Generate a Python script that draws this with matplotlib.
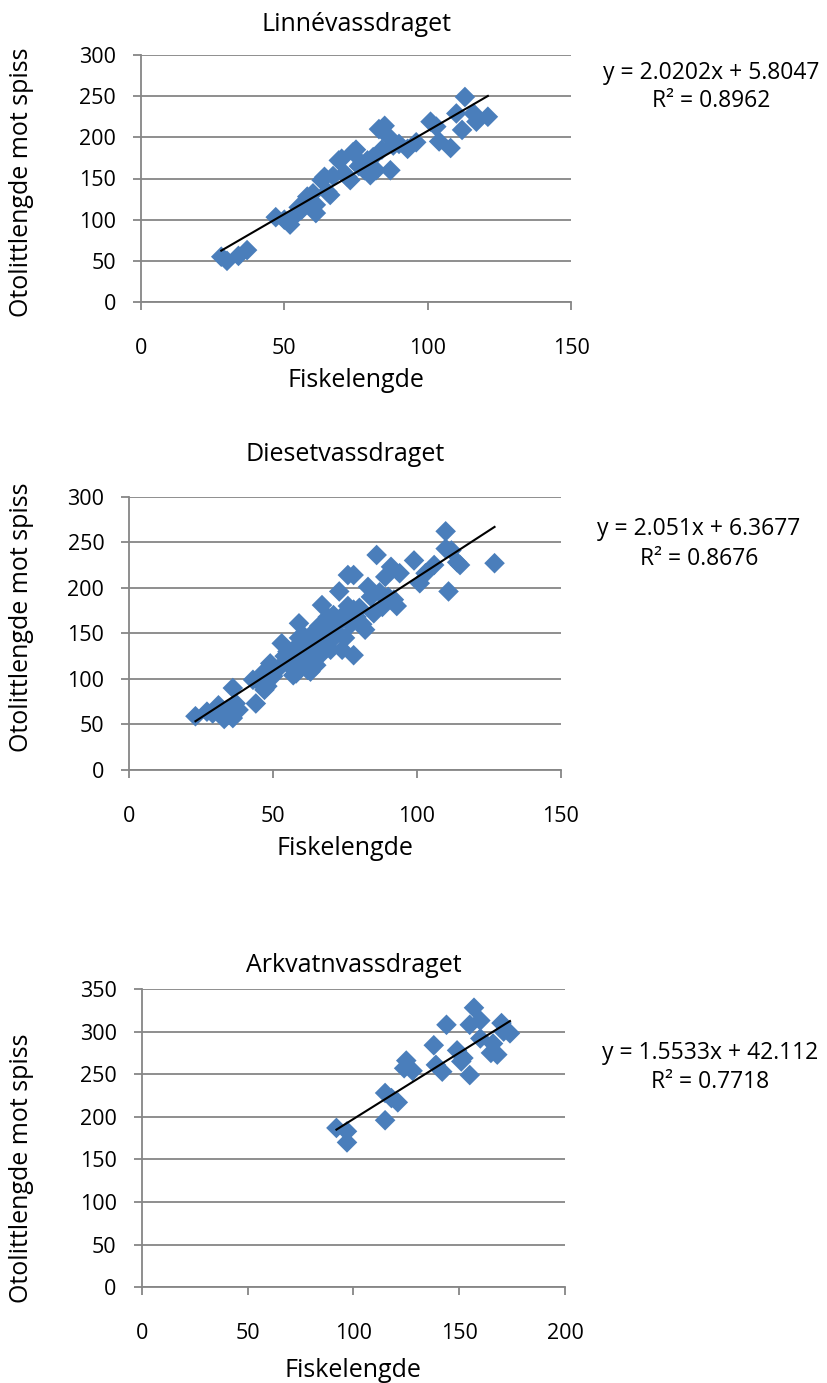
import matplotlib
matplotlib.use("Agg")
import matplotlib.pyplot as plt
import numpy as np

plt.rcParams['font.family'] = ['Open Sans', 'DejaVu Sans']

# ---- data -------------------------------------------------------------
linne_x = [28, 30, 34, 37, 47, 50, 52, 54, 55, 56, 58, 58, 60, 61, 61, 63, 64, 65,
           66, 67, 69, 70, 71, 72, 73, 74, 75, 76, 77, 78, 79, 80, 81, 82, 83, 84,
           85, 86, 87, 88, 90, 93, 96, 101, 103, 104, 108, 110, 113, 112, 116, 117, 121]
linne_y = [55, 50, 56, 63, 103, 100, 94, 106, 115, 112, 128, 120, 132, 108, 118, 148, 152, 134,
           130, 153, 172, 174, 156, 152, 148, 182, 185, 165, 168, 160, 172, 154, 176, 160, 210, 185,
           214, 202, 160, 190, 192, 186, 194, 219, 213, 195, 187, 229, 249, 209, 229, 219, 225]

dieset_x = [23, 27, 29, 31, 33, 34, 36, 36, 37, 38, 44, 43, 45, 47, 47, 48, 49, 50, 51, 52,
            53, 54, 55, 55, 56, 57, 58, 58, 59, 59, 60, 60, 61, 61, 62, 62, 63, 63, 64, 64,
            65, 65, 66, 66, 67, 67, 68, 68, 69, 69, 70, 70, 71, 71, 72, 72, 73, 74, 74, 75,
            75, 76, 76, 77, 78, 78, 78, 79, 80, 81, 82, 83, 84, 85, 86, 87, 88, 89, 90, 91,
            92, 93, 94, 99, 101, 103, 106, 110, 110, 112, 111, 114, 115, 127]
dieset_y = [59, 64, 62, 71, 56, 66, 90, 57, 73, 66, 73, 99, 97, 108, 88, 92, 117, 103, 110, 112,
            139, 125, 117, 130, 122, 104, 106, 135, 161, 145, 140, 118, 146, 128, 139, 110, 108, 133, 124, 150,
            154, 115, 136, 158, 181, 128, 141, 160, 150, 168, 132, 162, 145, 170, 163, 152, 196, 132, 165, 145,
            172, 214, 180, 160, 126, 176, 214, 168, 178, 160, 154, 201, 190, 172, 236, 195, 179, 212, 190, 223,
            187, 180, 216, 230, 205, 216, 225, 262, 243, 241, 196, 228, 225, 227]

arkvatn_x = [92, 97, 97, 115, 118, 115, 121, 124, 125, 128, 138, 139, 142, 144, 149, 151, 152,
             155, 155, 157, 160, 160, 165, 166, 168, 170, 171, 174]
arkvatn_y = [187, 183, 170, 228, 222, 196, 217, 257, 266, 254, 284, 261, 253, 308, 278, 265, 269,
             249, 308, 328, 313, 292, 275, 286, 273, 310, 300, 298]

titles = ["Linnévassdraget", "Diesetvassdraget", "Arkvatnvassdraget"]
x_title = "Fiskelengde"
y_title = "Otolittlengde mot spiss"
slopes = [2.0202, 2.051, 1.5533]
intercepts = [5.8047, 6.3677, 42.112]
r2_values = ["0.8962", "0.8676", "0.7718"]
slope_txt = ["2.0202", "2.051", "1.5533"]
icpt_txt = ["5.8047", "6.3677", "42.112"]

x_ticks = [[0, 50, 100, 150], [0, 50, 100, 150], [0, 50, 100, 150, 200]]
y_ticks = [[0, 50, 100, 150, 200, 250, 300], [0, 50, 100, 150, 200, 250, 300],
           [0, 50, 100, 150, 200, 250, 300, 350]]

# ---- layout (pixel positions on the 827x1383 canvas) --------------------
W, H = 827, 1383
fig = plt.figure(figsize=(W / 100, H / 100), dpi=100)

def px_box(l, t, r, b):
    return [l / W, 1 - b / H, (r - l) / W, (b - t) / H]

def fx(px):
    return px / W

def fy(py):
    return 1 - py / H

boxes = [px_box(141, 55, 571, 302), px_box(129.3, 496.7, 560.7, 770), px_box(141.7, 989, 565, 1287.3)]
title_base = [31, 461, 972]
xlabel_base = [387, 855, 1377]
ylabel_center = [182, 617, 1168]
eq_pos = [(711, 73, 101), (699, 529, 559), (710, 1053, 1082)]
datasets = [(linne_x, linne_y), (dieset_x, dieset_y), (arkvatn_x, arkvatn_y)]

grid_c = "#868686"
blue = "#4A7EBB"
fs_tick = 15.5
fs_label = 18
fs_eq = 16.5

for i, ((xs, ys), box) in enumerate(zip(datasets, boxes)):
    ax = fig.add_axes(box)
    ax.set_xlim(x_ticks[i][0], x_ticks[i][-1])
    ax.set_ylim(y_ticks[i][0], y_ticks[i][-1])
    ax.set_xticks(x_ticks[i])
    ax.set_yticks(y_ticks[i])
    ax.yaxis.grid(True, color=grid_c, linewidth=1.3)
    ax.set_axisbelow(True)
    for s in ["top", "right"]:
        ax.spines[s].set_visible(False)
    for s in ["left", "bottom"]:
        ax.spines[s].set_color(grid_c)
        ax.spines[s].set_linewidth(1.3)
    ax.tick_params(axis="both", direction="out", length=6, width=1.3, color=grid_c,
                   labelsize=fs_tick, labelcolor="black")
    ax.tick_params(axis="y", pad=12)
    ax.tick_params(axis="x", pad=20)

    ax.scatter(xs, ys, marker="D", s=110, color=blue, edgecolors="none", zorder=3, clip_on=False)
    xl = np.array([min(xs), max(xs)], dtype=float)
    ax.plot(xl, slopes[i] * xl + intercepts[i], color="black", linewidth=1.5, zorder=4)

    cx = box[0] + box[2] / 2
    fig.text(cx, fy(title_base[i]), titles[i], ha="center", va="baseline", fontsize=fs_label)
    fig.text(cx, fy(xlabel_base[i]), x_title, ha="center", va="baseline", fontsize=fs_label)
    fig.text(fx(22), fy(ylabel_center[i]), y_title, ha="center", va="center",
             rotation=90, fontsize=fs_label)
    ex, ey1, ey2 = eq_pos[i]
    fig.text(fx(ex), fy(ey1), f"y = {slope_txt[i]}x + {icpt_txt[i]}",
             ha="center", va="center", fontsize=fs_eq)
    fig.text(fx(ex), fy(ey2), f"R² = {r2_values[i]}",
             ha="center", va="center", fontsize=fs_eq)

fig.savefig("out.png", dpi=100)
